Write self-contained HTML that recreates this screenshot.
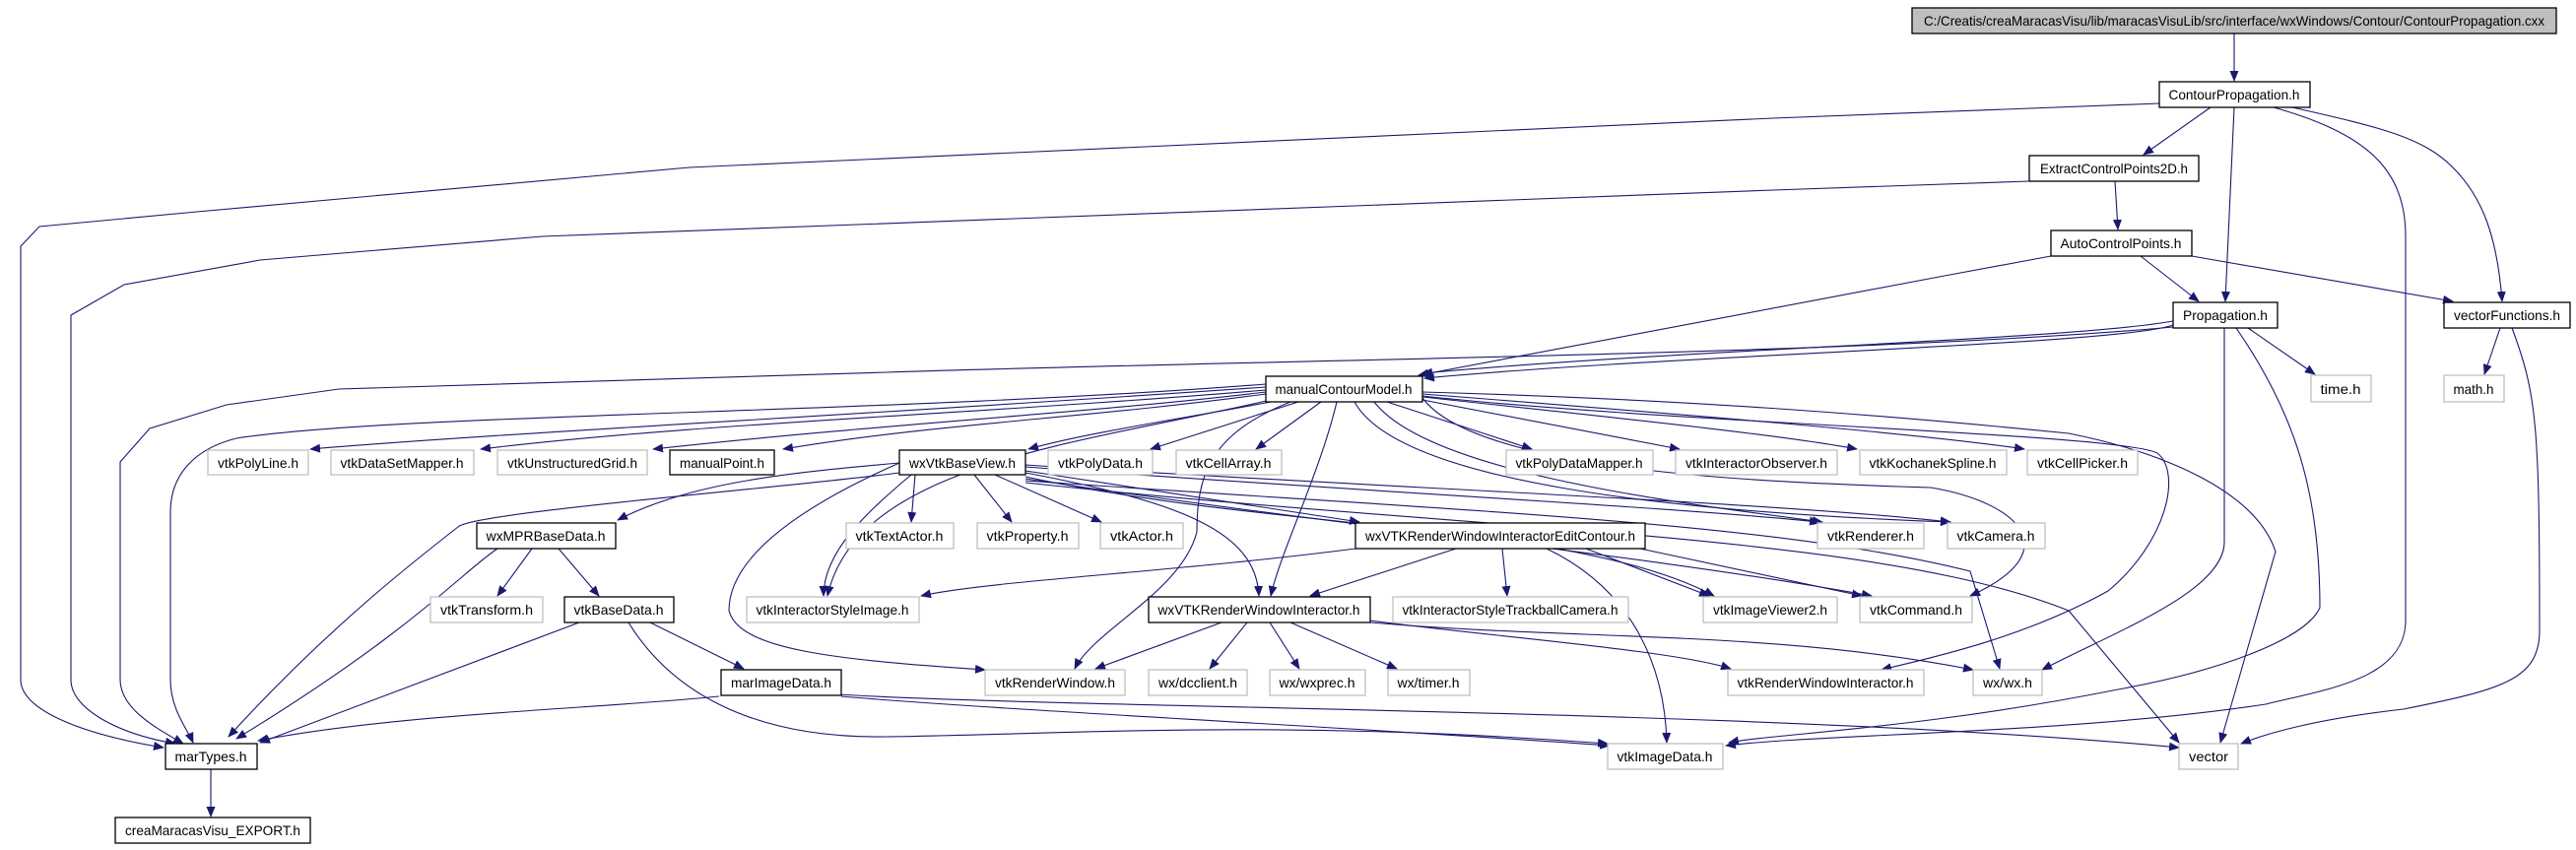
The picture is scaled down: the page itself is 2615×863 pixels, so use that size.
<!DOCTYPE html>
<html><head><meta charset="utf-8"><style>
html,body{margin:0;padding:0;background:#fff;}
svg{display:block;}
text{font-family:"Liberation Sans",sans-serif;font-size:14px;fill:#000;}
.b{fill:#fff;stroke:#000;stroke-width:1.3;}
.g{fill:#fff;stroke:#bfbfbf;stroke-width:1.3;}
.e{fill:none;stroke:#191970;stroke-width:1.1;marker-end:url(#a);}
</style></head><body>
<svg width="2615" height="863" viewBox="0 0 2615 863" xmlns="http://www.w3.org/2000/svg">
<defs><marker id="a" markerWidth="11" markerHeight="9" refX="10" refY="4.5" orient="auto" markerUnits="userSpaceOnUse"><path d="M0,0 L11,4.5 L0,9 z" fill="#191970"/></marker></defs>
<g>
<path class="e" d="M2268,34 L2268,82"/>
<path class="e" d="M2244,109 L2176,157"/>
<path class="e" d="M2268,109 L2259,306"/>
<path class="e" d="M2327,109 C2420,130 2460,140 2490,170 C2520,200 2535,240 2540,306"/>
<path class="e" d="M2308,109 C2400,135 2442,170 2442,240 L2442,630 C2442,690 2360,700 2300,715 C2100,745 1850,745 1752,757"/>
<path class="e" d="M2192,105 L1800,120 L700,170 L200,215 L40,230 L21,250 L21,690 C21,720 80,745 166,759"/>
<path class="e" d="M2060,184 L1800,193 L551,240 L264,264 L126,289 L72,320 L72,690 C72,720 120,745 178,755"/>
<path class="e" d="M2147,184 L2150,233"/>
<path class="e" d="M2173,260 L2232,306"/>
<path class="e" d="M2225,260 L2490,306"/>
<path class="e" d="M2082,260 L1974,280 L1440,381"/>
<path class="e" d="M2206,330 C2150,350 1700,360 1446,384"/>
<path class="e" d="M2206,326 C2100,345 1700,355 1444,379"/>
<path class="e" d="M2282,333 L2350,380"/>
<path class="e" d="M2206,332 C1900,360 1300,365 900,378 L344,395 L230,411 L152,435 L122,469 L122,690 C122,720 160,740 186,755"/>
<path class="e" d="M2258,333 L2258,550 C2258,600 2150,640 2073,680"/>
<path class="e" d="M2270,333 C2330,420 2355,500 2355,617 C2340,650 2250,682 2150,700 C1950,740 1800,745 1755,754"/>
<path class="e" d="M2538,333 L2522,380"/>
<path class="e" d="M2550,333 C2575,400 2578,430 2578,640 C2578,690 2540,700 2440,720 C2350,730 2300,745 2275,755"/>
<path class="e" d="M1285,393 C900,420 500,440 315,456"/>
<path class="e" d="M1285,390 C900,420 400,420 240,445 C200,455 173,480 173,520 L173,690 C173,720 190,740 196,754"/>
<path class="e" d="M1285,396 C1000,420 700,430 488,456"/>
<path class="e" d="M1285,398 C1100,420 900,430 663,456"/>
<path class="e" d="M1285,400 C1100,425 950,430 795,456"/>
<path class="e" d="M1290,408 C1200,425 1100,440 1044,456"/>
<path class="e" d="M1318,408 L1168,456"/>
<path class="e" d="M1341,408 L1275,456"/>
<path class="e" d="M1357,408 C1340,480 1300,560 1290,605"/>
<path class="e" d="M1408,408 L1555,456"/>
<path class="e" d="M1444,406 L1705,456"/>
<path class="e" d="M1444,403 C1600,420 1800,440 1885,456"/>
<path class="e" d="M1444,400 C1700,420 1950,440 2055,456"/>
<path class="e" d="M1444,398 C1700,405 1900,420 2100,440 C2200,460 2290,500 2310,560 L2254,754"/>
<path class="e" d="M1444,404 C1500,480 1800,490 1960,495 C2050,510 2100,560 2000,605"/>
<path class="e" d="M1444,402 C1700,430 2150,440 2190,460 C2215,480 2200,550 2140,600 C2050,650 1950,670 1910,680"/>
<path class="e" d="M1395,408 C1450,480 1700,510 1850,530"/>
<path class="e" d="M1375,408 C1420,490 1700,520 1980,530"/>
<path class="e" d="M1290,406 C1100,450 870,470 840,605"/>
<path class="e" d="M1310,408 C1230,440 1215,480 1215,540 C1200,600 1110,640 1091,679"/>
<path class="e" d="M913,470 C800,520 740,570 740,620 C750,660 850,670 1000,680"/>
<path class="e" d="M929,482 L925,530"/>
<path class="e" d="M989,482 L1027,530"/>
<path class="e" d="M1010,482 L1118,530"/>
<path class="e" d="M913,470 C800,480 700,490 627,528"/>
<path class="e" d="M913,480 C800,495 480,520 465,535 C420,570 330,640 232,748"/>
<path class="e" d="M505,557 C470,580 420,640 240,750"/>
<path class="e" d="M540,557 L505,605"/>
<path class="e" d="M567,557 L608,605"/>
<path class="e" d="M588,632 L264,754"/>
<path class="e" d="M660,632 L755,679"/>
<path class="e" d="M638,632 C680,700 760,750 900,748 C1100,745 1300,730 1632,755"/>
<path class="e" d="M730,707 C600,720 400,725 262,752"/>
<path class="e" d="M854,707 C1000,720 1400,740 1634,757"/>
<path class="e" d="M850,705 C1100,720 1800,720 2212,759"/>
<path class="e" d="M1041,480 C1200,510 1275,540 1278,605"/>
<path class="e" d="M1041,478 L1380,530"/>
<path class="e" d="M925,482 C880,520 836,560 836,605"/>
<path class="e" d="M1041,474 C1400,500 1700,515 1847,530"/>
<path class="e" d="M1041,472 C1400,495 1800,510 1980,530"/>
<path class="e" d="M1041,484 C1300,540 1600,530 1740,605"/>
<path class="e" d="M1041,486 C1400,540 1650,560 1900,605"/>
<path class="e" d="M1041,488 C1500,520 1800,530 2000,580 L2030,679"/>
<path class="e" d="M1041,490 C1500,540 1900,540 2100,620 L2212,754"/>
<path class="e" d="M1376,557 C1200,580 1000,590 935,605"/>
<path class="e" d="M1478,557 L1330,605"/>
<path class="e" d="M1525,557 L1530,605"/>
<path class="e" d="M1570,557 C1660,600 1690,680 1692,754"/>
<path class="e" d="M1610,557 L1735,605"/>
<path class="e" d="M1665,557 L1890,605"/>
<path class="e" d="M1240,632 L1112,679"/>
<path class="e" d="M1266,632 L1228,679"/>
<path class="e" d="M1289,632 L1319,679"/>
<path class="e" d="M1310,632 L1418,679"/>
<path class="e" d="M1391,630 C1500,645 1700,660 1757,679"/>
<path class="e" d="M1391,632 C1600,650 1800,640 2003,680"/>
<path class="e" d="M214,781 L214,829"/>
</g>
<g>
<rect x="1941" y="8" width="654" height="26" fill="#bfbfbf" stroke="#000" stroke-width="1.3"/><text x="2268" y="26" text-anchor="middle" textLength="630" lengthAdjust="spacingAndGlyphs">C:/Creatis/creaMaracasVisu/lib/maracasVisuLib/src/interface/wxWindows/Contour/ContourPropagation.cxx</text>
<rect class="b" x="2192" y="83" width="153" height="26"/><text x="2268" y="101" text-anchor="middle" textLength="133" lengthAdjust="spacingAndGlyphs">ContourPropagation.h</text>
<rect class="b" x="2060" y="158" width="172" height="26"/><text x="2146" y="176" text-anchor="middle" textLength="150" lengthAdjust="spacingAndGlyphs">ExtractControlPoints2D.h</text>
<rect class="b" x="2082" y="234" width="143" height="26"/><text x="2153" y="252" text-anchor="middle" textLength="123" lengthAdjust="spacingAndGlyphs">AutoControlPoints.h</text>
<rect class="b" x="2206" y="307" width="106" height="26"/><text x="2259" y="325" text-anchor="middle" textLength="86" lengthAdjust="spacingAndGlyphs">Propagation.h</text>
<rect class="b" x="2481" y="307" width="128" height="26"/><text x="2545" y="325" text-anchor="middle" textLength="108" lengthAdjust="spacingAndGlyphs">vectorFunctions.h</text>
<rect class="g" x="2346" y="381" width="61" height="27"/><text x="2376" y="400" text-anchor="middle" textLength="41" lengthAdjust="spacingAndGlyphs">time.h</text>
<rect class="g" x="2481" y="381" width="61" height="27"/><text x="2511" y="400" text-anchor="middle" textLength="41" lengthAdjust="spacingAndGlyphs">math.h</text>
<rect class="b" x="1285" y="382" width="159" height="26"/><text x="1364" y="400" text-anchor="middle" textLength="139" lengthAdjust="spacingAndGlyphs">manualContourModel.h</text>
<rect class="g" x="211" y="457" width="102" height="25"/><text x="262" y="475" text-anchor="middle" textLength="82" lengthAdjust="spacingAndGlyphs">vtkPolyLine.h</text>
<rect class="g" x="336" y="457" width="145" height="25"/><text x="408" y="475" text-anchor="middle" textLength="125" lengthAdjust="spacingAndGlyphs">vtkDataSetMapper.h</text>
<rect class="g" x="505" y="457" width="152" height="25"/><text x="581" y="475" text-anchor="middle" textLength="132" lengthAdjust="spacingAndGlyphs">vtkUnstructuredGrid.h</text>
<rect class="b" x="680" y="457" width="106" height="25"/><text x="733" y="475" text-anchor="middle" textLength="86" lengthAdjust="spacingAndGlyphs">manualPoint.h</text>
<rect class="b" x="913" y="457" width="128" height="25"/><text x="977" y="475" text-anchor="middle" textLength="108" lengthAdjust="spacingAndGlyphs">wxVtkBaseView.h</text>
<rect class="g" x="1064" y="457" width="106" height="25"/><text x="1117" y="475" text-anchor="middle" textLength="86" lengthAdjust="spacingAndGlyphs">vtkPolyData.h</text>
<rect class="g" x="1194" y="457" width="107" height="25"/><text x="1247" y="475" text-anchor="middle" textLength="87" lengthAdjust="spacingAndGlyphs">vtkCellArray.h</text>
<rect class="g" x="1529" y="457" width="149" height="25"/><text x="1603" y="475" text-anchor="middle" textLength="129" lengthAdjust="spacingAndGlyphs">vtkPolyDataMapper.h</text>
<rect class="g" x="1701" y="457" width="164" height="25"/><text x="1783" y="475" text-anchor="middle" textLength="144" lengthAdjust="spacingAndGlyphs">vtkInteractorObserver.h</text>
<rect class="g" x="1888" y="457" width="149" height="25"/><text x="1962" y="475" text-anchor="middle" textLength="129" lengthAdjust="spacingAndGlyphs">vtkKochanekSpline.h</text>
<rect class="g" x="2058" y="457" width="112" height="25"/><text x="2114" y="475" text-anchor="middle" textLength="92" lengthAdjust="spacingAndGlyphs">vtkCellPicker.h</text>
<rect class="b" x="484" y="531" width="141" height="26"/><text x="554" y="549" text-anchor="middle" textLength="121" lengthAdjust="spacingAndGlyphs">wxMPRBaseData.h</text>
<rect class="g" x="859" y="531" width="109" height="26"/><text x="913" y="549" text-anchor="middle" textLength="89" lengthAdjust="spacingAndGlyphs">vtkTextActor.h</text>
<rect class="g" x="992" y="531" width="103" height="26"/><text x="1043" y="549" text-anchor="middle" textLength="83" lengthAdjust="spacingAndGlyphs">vtkProperty.h</text>
<rect class="g" x="1117" y="531" width="84" height="26"/><text x="1159" y="549" text-anchor="middle" textLength="64" lengthAdjust="spacingAndGlyphs">vtkActor.h</text>
<rect class="b" x="1376" y="531" width="294" height="26"/><text x="1523" y="549" text-anchor="middle" textLength="274" lengthAdjust="spacingAndGlyphs">wxVTKRenderWindowInteractorEditContour.h</text>
<rect class="g" x="1845" y="531" width="108" height="26"/><text x="1899" y="549" text-anchor="middle" textLength="88" lengthAdjust="spacingAndGlyphs">vtkRenderer.h</text>
<rect class="g" x="1977" y="531" width="99" height="26"/><text x="2026" y="549" text-anchor="middle" textLength="79" lengthAdjust="spacingAndGlyphs">vtkCamera.h</text>
<rect class="g" x="437" y="606" width="114" height="26"/><text x="494" y="624" text-anchor="middle" textLength="94" lengthAdjust="spacingAndGlyphs">vtkTransform.h</text>
<rect class="b" x="573" y="606" width="111" height="26"/><text x="628" y="624" text-anchor="middle" textLength="91" lengthAdjust="spacingAndGlyphs">vtkBaseData.h</text>
<rect class="g" x="758" y="606" width="175" height="26"/><text x="845" y="624" text-anchor="middle" textLength="155" lengthAdjust="spacingAndGlyphs">vtkInteractorStyleImage.h</text>
<rect class="b" x="1166" y="606" width="225" height="26"/><text x="1278" y="624" text-anchor="middle" textLength="205" lengthAdjust="spacingAndGlyphs">wxVTKRenderWindowInteractor.h</text>
<rect class="g" x="1414" y="606" width="239" height="26"/><text x="1533" y="624" text-anchor="middle" textLength="219" lengthAdjust="spacingAndGlyphs">vtkInteractorStyleTrackballCamera.h</text>
<rect class="g" x="1729" y="606" width="136" height="26"/><text x="1797" y="624" text-anchor="middle" textLength="116" lengthAdjust="spacingAndGlyphs">vtkImageViewer2.h</text>
<rect class="g" x="1888" y="606" width="114" height="26"/><text x="1945" y="624" text-anchor="middle" textLength="94" lengthAdjust="spacingAndGlyphs">vtkCommand.h</text>
<rect class="b" x="732" y="680" width="122" height="26"/><text x="793" y="698" text-anchor="middle" textLength="102" lengthAdjust="spacingAndGlyphs">marImageData.h</text>
<rect class="g" x="1000" y="680" width="142" height="26"/><text x="1071" y="698" text-anchor="middle" textLength="122" lengthAdjust="spacingAndGlyphs">vtkRenderWindow.h</text>
<rect class="g" x="1166" y="680" width="100" height="26"/><text x="1216" y="698" text-anchor="middle" textLength="80" lengthAdjust="spacingAndGlyphs">wx/dcclient.h</text>
<rect class="g" x="1289" y="680" width="97" height="26"/><text x="1337" y="698" text-anchor="middle" textLength="77" lengthAdjust="spacingAndGlyphs">wx/wxprec.h</text>
<rect class="g" x="1409" y="680" width="83" height="26"/><text x="1450" y="698" text-anchor="middle" textLength="63" lengthAdjust="spacingAndGlyphs">wx/timer.h</text>
<rect class="g" x="1754" y="680" width="199" height="26"/><text x="1853" y="698" text-anchor="middle" textLength="179" lengthAdjust="spacingAndGlyphs">vtkRenderWindowInteractor.h</text>
<rect class="g" x="2003" y="680" width="70" height="26"/><text x="2038" y="698" text-anchor="middle" textLength="50" lengthAdjust="spacingAndGlyphs">wx/wx.h</text>
<rect class="b" x="168" y="755" width="93" height="26"/><text x="214" y="773" text-anchor="middle" textLength="73" lengthAdjust="spacingAndGlyphs">marTypes.h</text>
<rect class="g" x="1632" y="755" width="117" height="26"/><text x="1690" y="773" text-anchor="middle" textLength="97" lengthAdjust="spacingAndGlyphs">vtkImageData.h</text>
<rect class="g" x="2212" y="755" width="60" height="26"/><text x="2242" y="773" text-anchor="middle" textLength="40" lengthAdjust="spacingAndGlyphs">vector</text>
<rect class="b" x="117" y="830" width="198" height="26"/><text x="216" y="848" text-anchor="middle" textLength="178" lengthAdjust="spacingAndGlyphs">creaMaracasVisu_EXPORT.h</text>
</g>
</svg>
</body></html>
